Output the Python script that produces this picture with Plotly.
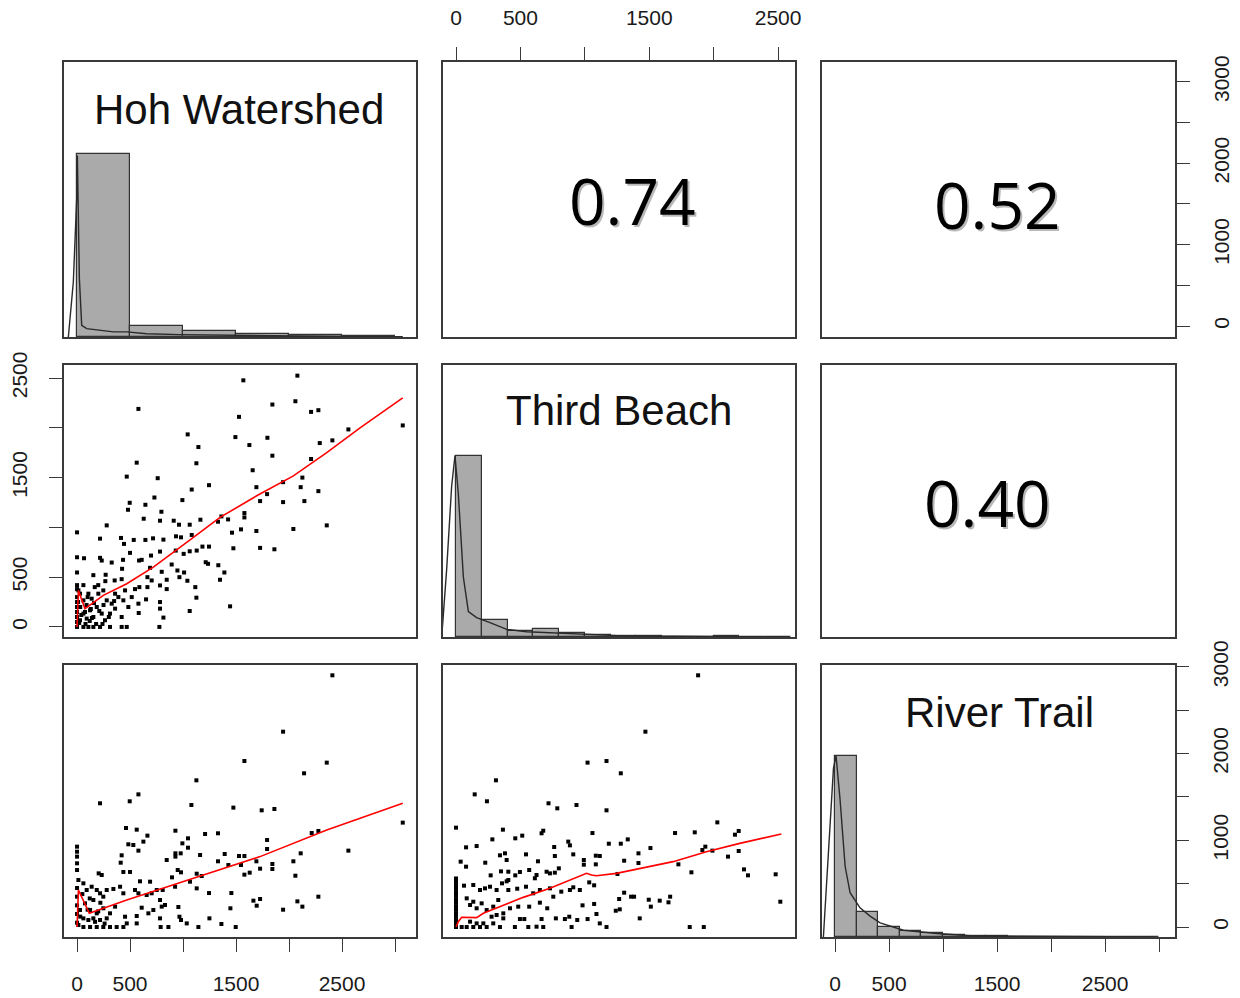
import plotly.graph_objects as go
from plotly.subplots import make_subplots

# --- data ------------------------------------------------------------------
names = ['Hoh Watershed', 'Third Beach', 'River Trail']
corr_hw_tb = '0.74'
corr_hw_rt = '0.52'
corr_tb_rt = '0.40'

# histograms (bar heights relative to the tallest bin)
hoh_bin_width = 500
hoh_hist = [1.0, 0.059, 0.031, 0.018, 0.009, 0.003]
tb_bin_width = 200
tb_hist = [1.0, 0.092, 0.033, 0.042, 0.024, 0.011, 0.006, 0.004, 0.002, 0.002, 0.004, 0.002, 0.002]
rt_bin_width = 200
rt_hist = [1.0, 0.139, 0.054, 0.031, 0.022, 0.013, 0.004, 0.007, 0.002, 0.001, 0.001, 0.001, 0.0, 0.001, 0.001]

# density curves on the diagonal (same relative units)
hoh_dens_x = [-82, -35, 0, 3, 22, 44, 91, 217, 343, 469, 657, 972, 1412, 2041, 2670, 3073]
hoh_dens_y = [0, 0.30, 0.8, 0.99, 0.32, 0.064, 0.046, 0.037, 0.028, 0.028, 0.018, 0.013, 0.009, 0.006, 0.002, 0.002]
tb_dens_x = [-111, -72, -34, -8, 18, 57, 96, 160, 264, 393, 548, 729, 961, 1297, 1685, 2202, 2589]
tb_dens_y = [0, 0.38, 0.83, 1.0, 0.79, 0.33, 0.14, 0.107, 0.079, 0.042, 0.029, 0.024, 0.015, 0.006, 0.004, 0.002, 0.0]
rt_dens_x = [-108, -62, -15, 9, 46, 93, 139, 231, 324, 417, 633, 941, 1250, 1713, 2330, 2947]
rt_dens_y = [0, 0.43, 0.93, 1.0, 0.76, 0.39, 0.244, 0.161, 0.115, 0.078, 0.037, 0.019, 0.007, 0.004, 0.002, 0.0]

# scatter: Hoh Watershed (x) vs Third Beach (y)
hw_tb = [
    (1569, 2477), (2079, 2524), (579, 2190), (1843, 2234), (2060, 2267), (2208, 2160), (2277, 2177), (1528, 2110),
    (2560, 1984), (3073, 2024), (1044, 1934), (1494, 1907), (1796, 1900), (1145, 1807), (1626, 1827), (2290, 1847),
    (2409, 1874), (563, 1650), (1126, 1644), (1843, 1720), (2208, 1687), (1657, 1574), (469, 1510), (761, 1494),
    (2126, 1500), (1245, 1424), (1082, 1380), (1692, 1404), (1944, 1454), (2110, 1404), (2277, 1364), (730, 1300),
    (994, 1274), (497, 1247), (645, 1227), (481, 1177), (796, 1157), (1793, 1334), (1727, 1264), (1944, 1254),
    (2145, 1264), (629, 1087), (783, 1067), (912, 1067), (1164, 1077), (1330, 1057), (1362, 1110), (1425, 1080),
    (1579, 1144), (1579, 1100), (280, 1020), (962, 1027), (1063, 1027), (1462, 947), (1547, 980), (1692, 964),
    (2041, 984), (2356, 1020), (0, 950), (217, 887), (415, 894), (535, 874), (645, 874), (717, 890), (815, 877),
    (934, 910), (981, 900), (1082, 924), (443, 834), (500, 744), (585, 667), (698, 717), (783, 757), (931, 767),
    (1006, 734), (1063, 760), (1129, 767), (1183, 807), (1245, 807), (1475, 790), (1727, 794), (1862, 780),
    (0, 700), (66, 690), (217, 694), (233, 667), (327, 647), (434, 674), (610, 674), (425, 584), (689, 594),
    (799, 554), (893, 627), (947, 567), (1010, 547), (1214, 650), (1236, 634), (1333, 620), (1390, 547), (0, 547),
    (154, 520), (270, 524), (355, 467), (267, 460), (167, 400), (421, 480), (453, 367), (547, 380), (588, 400),
    (664, 500), (664, 400), (704, 467), (783, 417), (846, 474), (846, 380), (966, 500), (1041, 464), (1116, 400),
    (1126, 294), (1349, 474), (1444, 207), (13, 367), (28, 334), (60, 267), (107, 334), (138, 284), (201, 334),
    (248, 367), (280, 267), (327, 234), (359, 334), (390, 300), (437, 267), (516, 300), (484, 200), (579, 234),
    (651, 277), (783, 250), (582, 140), (783, 184), (815, 94), (1063, 160), (60, 134), (123, 167), (186, 200),
    (233, 134), (311, 134), (359, 184), (421, 100), (28, 67), (91, 84), (154, 100), (264, 67), (0, 0), (60, 0),
    (107, 0), (154, 0), (217, 0), (311, 0), (421, 0), (469, 0), (777, 0), (0, 50), (0, 100), (0, 150), (0, 200),
    (0, 250), (0, 300), (0, 380), (0, 420), (20, 40), (40, 120), (90, 220), (120, 60), (180, 30), (30, 200),
    (75, 150), (140, 90), (210, 160), (250, 220), (300, 100), (350, 260), (100, 300), (60, 420), (160, 240),
    (200, 420), (130, 180), (80, 30), (10, 250), (240, 30),
]
hw_tb_fit_x = [0, 13, 75, 248, 469, 720, 1098, 1349, 1695, 2041, 2356, 2670, 3073]
hw_tb_fit_y = [0, 367, 184, 317, 434, 600, 900, 1100, 1317, 1517, 1750, 2000, 2300]

# scatter: Hoh Watershed (x) vs River Trail (y)
hw_rt = [
    (2409, 2903), (1944, 2253), (1579, 1915), (2356, 1896), (1126, 1692), (2142, 1773), (217, 1427), (497, 1450),
    (579, 1530), (1079, 1407), (1475, 1377), (1742, 1346), (1862, 1361), (3073, 1204), (462, 1142), (563, 1123),
    (664, 1054), (928, 1111), (1047, 1023), (1208, 1073), (1330, 1081), (2214, 1084), (2277, 1108), (484, 954),
    (531, 946), (626, 985), (579, 881), (994, 965), (1047, 915), (421, 827), (412, 742), (846, 773), (928, 850),
    (928, 812), (978, 850), (1161, 831), (1330, 758), (1393, 842), (1528, 819), (1579, 819), (1547, 715),
    (1692, 758), (1727, 673), (1793, 1004), (1793, 900), (1843, 727), (1843, 669), (2041, 758), (2110, 850),
    (2560, 881), (2060, 592), (437, 635), (500, 635), (950, 658), (981, 631), (1129, 615), (1176, 588),
    (1428, 715), (1579, 604), (1629, 627), (896, 573), (594, 527), (689, 523), (808, 427), (925, 465), (1066, 523),
    (1129, 446), (1245, 392), (1456, 392), (1664, 304), (1695, 246), (1727, 323), (1944, 200), (2079, 296),
    (2126, 235), (2277, 350), (204, 619), (233, 600), (343, 439), (406, 465), (437, 389), (547, 427), (579, 389),
    (657, 369), (704, 389), (752, 427), (783, 312), (799, 235), (830, 254), (610, 223), (673, 158), (720, 196),
    (956, 231), (966, 119), (981, 81), (1035, 42), (783, 100), (563, 127), (563, 42), (453, 119), (469, 42),
    (1249, 100), (1362, 35), (1447, 216), (1145, 0), (1497, 0), (789, 0), (862, 0), (437, 0), (0, 927), (0, 869),
    (0, 812), (0, 735), (0, 658), (13, 542), (60, 504), (91, 427), (138, 465), (186, 427), (217, 389), (248, 350),
    (280, 427), (154, 312), (75, 273), (28, 196), (123, 196), (186, 158), (248, 216), (311, 158), (359, 235),
    (60, 100), (107, 81), (154, 100), (217, 81), (280, 100), (13, 23), (60, 0), (123, 0), (186, 0), (248, 0),
    (311, 0), (374, 0), (0, 50), (0, 150), (0, 250), (0, 350), (0, 450), (30, 120), (100, 200), (170, 60),
    (220, 280), (260, 40), (120, 330), (200, 180), (50, 380),
]
hw_rt_fit_x = [0, 13, 116, 469, 1098, 1727, 2356, 3073]
hw_rt_fit_y = [0, 427, 158, 312, 562, 812, 1119, 1427]

# scatter: Third Beach (x) vs River Trail (y)
tb_rt = [
    (1879, 2903), (1470, 2253), (1021, 1896), (1168, 1915), (1279, 1773), (310, 1692), (145, 1530), (240, 1450),
    (718, 1427), (786, 1369), (935, 1407), (1168, 1346), (2028, 1207), (0, 1146), (364, 1123), (282, 1011),
    (460, 1023), (514, 1054), (664, 1081), (677, 1111), (871, 985), (884, 942), (1059, 1084), (1186, 961),
    (1279, 961), (1333, 1011), (1509, 911), (1700, 1084), (1853, 1092), (2165, 1065), (2194, 1108), (78, 919),
    (160, 934), (1912, 888), (1935, 927), (1990, 881), (2111, 812), (2194, 877), (2235, 665), (2266, 596),
    (2481, 608), (2517, 292), (36, 754), (78, 696), (227, 742), (341, 827), (380, 850), (393, 773), (543, 838),
    (636, 758), (762, 923), (767, 819), (910, 838), (992, 773), (992, 719), (1085, 823), (1116, 819), (1085, 723),
    (1305, 765), (1416, 850), (1416, 738), (1726, 723), (1827, 631), (269, 596), (349, 642), (406, 638),
    (406, 542), (460, 596), (496, 635), (568, 658), (612, 562), (625, 600), (703, 638), (729, 619), (767, 627),
    (798, 677), (1034, 515), (1072, 481), (1253, 612), (62, 477), (134, 485), (186, 427), (225, 446), (264, 465),
    (315, 427), (357, 504), (393, 527), (406, 427), (475, 442), (543, 465), (599, 389), (651, 427), (729, 446),
    (755, 350), (817, 408), (884, 427), (910, 458), (961, 427), (982, 250), (1072, 266), (1305, 396), (1359, 350),
    (1382, 350), (1496, 315), (1512, 235), (1581, 304), (1649, 285), (1662, 350), (1266, 323), (1240, 188),
    (1271, 204), (83, 331), (109, 254), (134, 292), (160, 216), (199, 273), (238, 196), (289, 235), (328, 312),
    (367, 158), (419, 216), (483, 235), (568, 235), (651, 281), (708, 216), (276, 119), (315, 139), (367, 100),
    (496, 92), (530, 92), (664, 92), (775, 100), (845, 92), (879, 119), (941, 81), (1021, 92), (1090, 150),
    (1116, 42), (1426, 100), (109, 62), (160, 42), (212, 42), (289, 42), (341, 0), (457, 0), (561, 0), (625, 4),
    (677, 0), (897, 0), (1168, 0), (1814, 0), (1923, 0), (44, 0), (83, 0), (134, 0), (186, 0), (238, 0),
    (0, 0), (0, 40), (0, 80), (0, 120), (0, 160), (0, 200), (0, 240), (0, 280), (0, 320), (0, 360), (0, 400),
    (0, 440), (0, 480), (0, 520), (0, 560),
]
tb_rt_fit_x = [0, 18, 44, 160, 212, 341, 522, 729, 910, 1013, 1052, 1090, 1245, 1426, 1685, 1943, 2202, 2525]
tb_rt_fit_y = [0, 62, 112, 108, 158, 235, 342, 446, 562, 619, 600, 592, 619, 677, 754, 869, 965, 1073]

# axis ranges of each variable (R pads the data range by 4%)
hoh_range_x = [-123, 3198]
hoh_range_y = [-134, 3243]
tb_range = [-101, 2631]
rt_range_x = [-121, 3147]
rt_range_y = [-115, 3022]

# --- layout constants -------------------------------------------------------
W, H = 1240, 998
col_px = [(64, 416), (443, 795), (822, 1175)]
row_px = [(62, 337), (365, 637), (665, 937)]
FRAME = '#3a3a3a'
TICK_FONT = dict(family='Liberation Sans, Arial, sans-serif', size=21, color='#1a1a1a')

fig = make_subplots(rows=3, cols=3)


def ax(kind, r, c):
    k = (r - 1) * 3 + c
    return kind + ('' if k == 1 else str(k))


for r in range(1, 4):
    for c in range(1, 4):
        x0, x1 = col_px[c - 1]
        y0, y1 = row_px[r - 1]
        base = dict(showgrid=False, zeroline=False, showline=True, mirror=True, automargin=False,
                    linecolor=FRAME, linewidth=1.5, ticks='', showticklabels=False)
        fig.layout[ax('xaxis', r, c)].update(domain=[x0 / W, x1 / W], **base)
        fig.layout[ax('yaxis', r, c)].update(domain=[1 - y1 / H, 1 - y0 / H], **base)

x_ranges = [hoh_range_x, tb_range, rt_range_x]
y_ranges = [hoh_range_y, tb_range, rt_range_y]
for r in range(1, 4):
    for c in range(1, 4):
        fig.layout[ax('xaxis', r, c)].range = x_ranges[c - 1]
        if r == c:
            fig.layout[ax('yaxis', r, c)].range = [0, 1.5]
        else:
            fig.layout[ax('yaxis', r, c)].range = y_ranges[r - 1]

tick_style = dict(ticks='outside', ticklen=13, tickwidth=1.3, tickcolor=FRAME, automargin=False,
                  showticklabels=True, tickfont=TICK_FONT, ticklabelstandoff=14)
vals_3000 = [0, 500, 1000, 1500, 2000, 2500, 3000]
vals_2500 = [0, 500, 1000, 1500, 2000, 2500]
odd_text = ['0', '500', '', '1500', '', '2500', '']
even_text = ['0', '', '1000', '', '2000', '', '3000']

fig.layout.xaxis2.update(side='top', tickvals=vals_2500, ticktext=odd_text[:6], **tick_style)
fig.layout.xaxis7.update(side='bottom', tickvals=vals_3000, ticktext=odd_text, **tick_style)
fig.layout.xaxis9.update(side='bottom', tickvals=vals_3000, ticktext=odd_text, **tick_style)
fig.layout.yaxis3.update(side='right', tickvals=vals_3000, ticktext=even_text, tickangle=-90, **tick_style)
fig.layout.yaxis4.update(side='left', tickvals=vals_2500, ticktext=odd_text[:6], tickangle=-90, **tick_style)
fig.layout.yaxis10 = dict(overlaying='y9', anchor='x9', side='right', range=rt_range_y,
                          showgrid=False, zeroline=False, showline=False,
                          tickvals=vals_3000, ticktext=even_text, tickangle=-90, **tick_style)
fig.add_trace(go.Scatter(x=[None], y=[None], xaxis='x9', yaxis='y10', showlegend=False, hoverinfo='skip'))

# empty upper panels still need a trace so the frame is drawn
for r, c in [(1, 2), (1, 3), (2, 3)]:
    fig.add_trace(go.Scatter(x=[None], y=[None], mode='markers', showlegend=False, hoverinfo='skip'),
                  row=r, col=c)

# diagonal: histograms + density
diag = [(hoh_hist, hoh_bin_width, hoh_dens_x, hoh_dens_y),
        (tb_hist, tb_bin_width, tb_dens_x, tb_dens_y),
        (rt_hist, rt_bin_width, rt_dens_x, rt_dens_y)]
for i, (hist, bw, dx, dy) in enumerate(diag, start=1):
    centers = [bw * j + bw / 2 for j in range(len(hist))]
    fig.add_trace(go.Bar(x=centers, y=hist, width=bw, marker=dict(color='#aaaaaa', line=dict(color='#333333', width=1.2)),
                         showlegend=False), row=i, col=i)
    fig.add_trace(go.Scatter(x=dx, y=dy, mode='lines', line=dict(color='#2a2a2a', width=1.4),
                             showlegend=False), row=i, col=i)

# lower panels: scatter + smooth
lower = [(2, 1, hw_tb, hw_tb_fit_x, hw_tb_fit_y),
         (3, 1, hw_rt, hw_rt_fit_x, hw_rt_fit_y),
         (3, 2, tb_rt, tb_rt_fit_x, tb_rt_fit_y)]
for r, c, pts, fx, fy in lower:
    fig.add_trace(go.Scatter(x=[p[0] for p in pts], y=[p[1] for p in pts], mode='markers',
                             marker=dict(symbol='square', size=4, color='black'),
                             showlegend=False), row=r, col=c)
    fig.add_trace(go.Scatter(x=fx, y=fy, mode='lines', line=dict(color='red', width=1.6),
                             showlegend=False), row=r, col=c)

annotations = []
title_pos = [(0.497, 0.829), (0.5, 0.831), (0.504, 0.827)]
for i, name in enumerate(names, start=1):
    tx, ty = title_pos[i - 1]
    annotations.append(dict(text=name, xref=ax('x', i, i) + ' domain', yref=ax('y', i, i) + ' domain',
                            x=tx, y=ty, xanchor='center', yanchor='middle', showarrow=False,
                            font=dict(family='Liberation Sans, Arial, sans-serif', size=42, color='#111111')))

corr_cells = [(1, 2, corr_hw_tb, 0.537, 0.498), (1, 3, corr_hw_rt, 0.496, 0.48), (2, 3, corr_tb_rt, 0.47, 0.496)]
for r, c, txt, tx, ty in corr_cells:
    for shift, col in [(2, 'rgba(0,0,0,0.28)'), (0, 'black')]:
        annotations.append(dict(text=txt, xref=ax('x', r, c) + ' domain', yref=ax('y', r, c) + ' domain',
                                x=tx, y=ty, xshift=shift, yshift=-shift, xanchor='center', yanchor='middle',
                                showarrow=False,
                                font=dict(family='Open Sans, Noto Sans, sans-serif', size=64, color=col)))

fig.update_layout(width=W, height=H, margin=dict(l=0, r=0, t=0, b=0),
                  plot_bgcolor='white', paper_bgcolor='white', bargap=0,
                  annotations=annotations)

fig.write_html("out.html", config={'displayModeBar': False},
               post_script="document.body.style.margin='0';document.body.style.overflow='hidden';")
